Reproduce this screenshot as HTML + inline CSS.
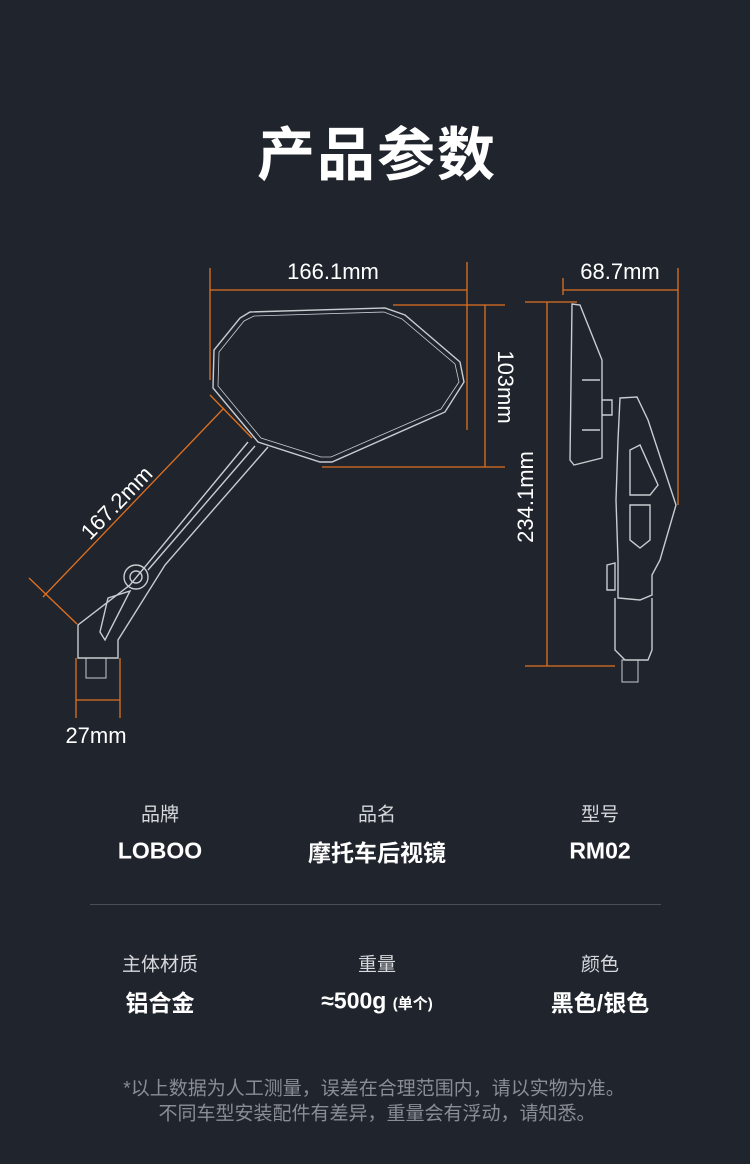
<!DOCTYPE html>
<html><head><meta charset="utf-8">
<style>
html,body{margin:0;padding:0;}
body{width:750px;height:1164px;background:#20252d;position:relative;overflow:hidden;font-family:"Liberation Sans","Noto Sans CJK SC",sans-serif;color:#fff;}
.t{position:absolute;white-space:nowrap;transform:translate(-50%,-50%);}
.title{font-size:58px;font-weight:bold;letter-spacing:2px;}
.lab{font-size:19px;color:#d6d8dc;}
.val{font-size:23px;font-weight:bold;}
.note{font-size:19px;color:#8a8d93;}
</style></head><body>
<div class="t title" style="left:377px;top:150px;">产品参数</div>

<svg width="750" height="1164" style="position:absolute;left:0;top:0" xmlns="http://www.w3.org/2000/svg">
<g fill="none" stroke="#e0701f" stroke-width="1.3">
<line x1="210" y1="290" x2="467" y2="290"/>
<line x1="210" y1="268" x2="210" y2="380"/>
<line x1="467" y1="262" x2="467" y2="430"/>
<line x1="485" y1="305" x2="485" y2="467"/>
<line x1="393" y1="305" x2="505" y2="305"/>
<line x1="322" y1="467" x2="505" y2="467"/>
<line x1="547" y1="302" x2="547" y2="666"/>
<line x1="525" y1="302" x2="577" y2="302"/>
<line x1="525" y1="666" x2="615" y2="666"/>
<line x1="563" y1="290" x2="678" y2="290"/>
<line x1="563" y1="278" x2="563" y2="295"/>
<line x1="678" y1="268" x2="678" y2="505"/>
<line x1="43" y1="597" x2="224" y2="408"/>
<line x1="29" y1="578" x2="77" y2="624"/>
<line x1="210" y1="395" x2="252" y2="438"/>
<line x1="76" y1="658" x2="76" y2="718"/>
<line x1="120" y1="658" x2="120" y2="718"/>
<line x1="76" y1="700" x2="120" y2="700"/>
</g>
<g fill="none" stroke="#c9ccd0" stroke-width="1.4">
<path d="M250,312 L385,308 L405,315 L460,362 L464,382 L445,412 L332,462 L320,462 L258,442 L213,388 L214,350 L240,318 Z"/>
<path d="M254,316 L384,312 L402,319 L455,364 L459,382 L441,409 L331,457 L321,457 L261,438 L218,386 L219,352 L244,321 Z" stroke-width="0.8"/>
<path d="M248,442 L130,585 L78,625 L78,658 L118,658 L118,640 L165,565 L268,447"/>
<line x1="255" y1="446" x2="148" y2="570"/>
<circle cx="136" cy="577" r="12"/>
<circle cx="136" cy="577" r="6"/>
<path d="M108,598 L130,591 L105,640 L100,632 Z"/>
<rect x="86" y="658" width="20" height="20" stroke-width="1"/>
<path d="M572,304 L580,305 L602,360 L602,458 L574,465 L570,460 Z"/>
<line x1="582" y1="380" x2="600" y2="380"/>
<line x1="582" y1="430" x2="600" y2="430"/>
<path d="M602,400 L612,400 L612,415 L602,415"/>
<path d="M620,398 L637,397 L648,420 L676,505 L660,560 L652,575 L652,595 L640,600 L618,598 L618,560 L616,500 L618,440 Z"/>
<path d="M630,450 L640,445 L658,485 L650,495 L630,495 Z"/>
<path d="M630,505 L650,505 L650,540 L640,548 L630,540 Z"/>
<path d="M607,565 L615,563 L615,590 L607,590 Z"/>
<path d="M615,598 L615,650 L625,660 L648,660 L652,650 L652,598"/>
<rect x="622" y="660" width="16" height="22" stroke-width="1"/>
</g>
<g fill="#fff" font-family="Liberation Sans, sans-serif" font-size="22">
<text x="333" y="279" text-anchor="middle">166.1mm</text>
<text x="620" y="279" text-anchor="middle">68.7mm</text>
<text x="96" y="743" text-anchor="middle">27mm</text>
<text transform="translate(498,387) rotate(90)" text-anchor="middle">103mm</text>
<text transform="translate(533,497) rotate(-90)" text-anchor="middle">234.1mm</text>
<text transform="translate(122,508) rotate(-46)" text-anchor="middle">167.2mm</text>
</g>
</svg>

<div class="t lab" style="left:160px;top:813px;">品牌</div>
<div class="t lab" style="left:377px;top:813px;">品名</div>
<div class="t lab" style="left:600px;top:813px;">型号</div>
<div class="t val" style="left:160px;top:851px;">LOBOO</div>
<div class="t val" style="left:377px;top:851px;">摩托车后视镜</div>
<div class="t val" style="left:600px;top:851px;">RM02</div>
<div style="position:absolute;left:90px;top:904px;width:571px;height:1px;background:#4a4e56;"></div>
<div class="t lab" style="left:160px;top:963px;">主体材质</div>
<div class="t lab" style="left:377px;top:963px;">重量</div>
<div class="t lab" style="left:600px;top:963px;">颜色</div>
<div class="t val" style="left:160px;top:1001px;">铝合金</div>
<div class="t val" style="left:377px;top:1001px;">≈500g <span style="font-size:15px;">(单个)</span></div>
<div class="t val" style="left:600px;top:1001px;">黑色/银色</div>
<div class="t note" style="left:374px;top:1087px;">*以上数据为人工测量，误差在合理范围内，请以实物为准。</div>
<div class="t note" style="left:377px;top:1112px;">不同车型安装配件有差异，重量会有浮动，请知悉。</div>
</body></html>
